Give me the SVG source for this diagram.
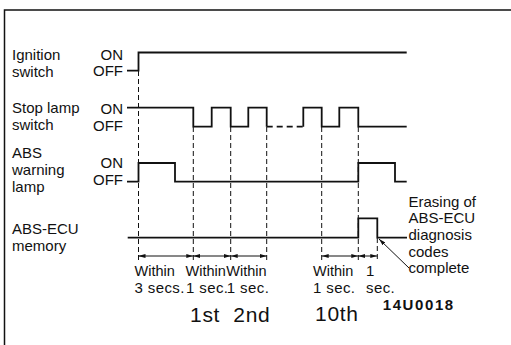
<svg xmlns="http://www.w3.org/2000/svg" width="511" height="345" viewBox="0 0 511 345">
<style>
text{font-family:"Liberation Sans",Arial,Helvetica,sans-serif;fill:#111}
.lbl{font-size:15px}
.sm{font-size:15px;letter-spacing:0.4px}
.w{font-size:14.5px}
.big{font-size:21px;letter-spacing:0.7px}
.code{font-size:15px;font-weight:bold;letter-spacing:1.6px}
.sig{fill:none;stroke:#111;stroke-width:1.8}
.sigd{fill:none;stroke:#111;stroke-width:1.8;stroke-dasharray:6 4}
.guide{fill:none;stroke:#111;stroke-width:1;stroke-dasharray:5 3}
.dim{fill:none;stroke:#111;stroke-width:1;marker-start:url(#ah);marker-end:url(#ah)}
.lead{fill:none;stroke:#111;stroke-width:1;marker-end:url(#ah)}
</style>
<defs>
<marker id="ah" viewBox="0 0 7 4" refX="7" refY="2" markerWidth="7" markerHeight="4" orient="auto-start-reverse" markerUnits="userSpaceOnUse"><path d="M0,0 L7,2 L0,4 z" fill="#111"/></marker>
</defs>
<rect width="511" height="345" fill="#fff"/>
<path d="M4.5,345 V10 H511" fill="none" stroke="#111" stroke-width="1.5"/>

<g id="ignition">
<text class="lbl" x="12" y="60">Ignition</text>
<text class="lbl" x="12" y="76.7">switch</text>
<text class="lbl" x="123" y="60" text-anchor="end">ON</text>
<text class="lbl" x="123" y="76" text-anchor="end">OFF</text>
<path class="sig" d="M127,70.7 H138.5 V52.5 H406.7"/>
</g>

<g id="stoplamp">
<text class="lbl" x="12" y="113.3">Stop lamp</text>
<text class="lbl" x="12" y="129.7">switch</text>
<text class="lbl" x="123" y="114" text-anchor="end">ON</text>
<text class="lbl" x="123" y="130.7" text-anchor="end">OFF</text>
<path class="sig" d="M127,107.7 H193.3 V126.7 H211.7 V107.7 H230.7 V126.7 H248.3 V107.7 H266.7 V126.7"/>
<path class="sigd" d="M266.7,126.7 H303.3"/>
<path class="sig" d="M303.3,126.7 V107.7 H321.7 V126.7 H339.3 V107.7 H358.3 V126.7 H406.7"/>
</g>

<g id="warning">
<text class="lbl" x="12" y="158.3">ABS</text>
<text class="lbl" x="12" y="175">warning</text>
<text class="lbl" x="12" y="191.7">lamp</text>
<text class="lbl" x="123" y="168.3" text-anchor="end">ON</text>
<text class="lbl" x="123" y="185" text-anchor="end">OFF</text>
<path class="sig" d="M127,181.7 H138.5 V163 H175 V181.7 H358.3 V163 H395 V181.7 H406.7"/>
</g>

<g id="memory">
<text class="lbl" x="12" y="234.3">ABS-ECU</text>
<text class="lbl" x="12" y="250.5">memory</text>
<path class="sig" d="M127.7,237.7 H358.3 V218.3 H377.3 V237.7 H407"/>
</g>

<g id="connectors">
<path class="guide" d="M138.5,71 V262 M193.3,127 V262 M230.7,127 V262 M266.7,127 V262 M321.7,127 V262 M358.3,127 V262 M377.3,238 V262"/>
<path class="dim" d="M138.5,256 H193.3"/>
<path class="dim" d="M193.3,256 H230.7"/>
<path class="dim" d="M230.7,256 H266.7"/>
<path class="dim" d="M321.7,256 H358.3"/>
<path class="dim" d="M358.3,256 H377.3"/>
<path class="lead" d="M409,268 L379,239"/>
</g>

<g id="erase-note">
<text class="lbl" x="408.5" y="206.7">Erasing of</text>
<text class="lbl" x="408.5" y="223">ABS-ECU</text>
<text class="lbl" x="408.5" y="240">diagnosis</text>
<text class="lbl" x="408.5" y="256.7">codes</text>
<text class="lbl" x="408.5" y="273.3">complete</text>
</g>

<g id="timing-labels">
<text class="w" x="134.5" y="276">Within</text>
<text class="sm" x="134.5" y="293.3">3 secs.</text>
<text class="w" x="185.5" y="276">Within</text>
<text class="sm" x="186" y="293.3">1 sec.</text>
<text class="w" x="226.3" y="276">Within</text>
<text class="sm" x="226.8" y="293.3">1 sec.</text>
<text class="w" x="313" y="276">Within</text>
<text class="sm" x="313" y="293.3">1 sec.</text>
<text class="sm" x="366" y="276">1</text>
<text class="sm" x="366" y="293.3">sec.</text>
<text class="big" x="190" y="321.5">1st</text>
<text class="big" x="233.3" y="321.5">2nd</text>
<text class="big" x="315" y="321">10th</text>
<text class="code" x="382.7" y="310">14U0018</text>
</g>
</svg>
